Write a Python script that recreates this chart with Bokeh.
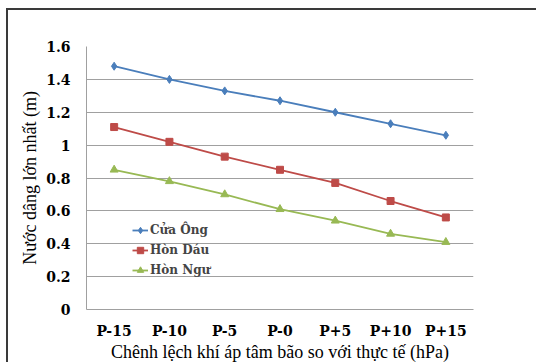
from bokeh.plotting import figure
from bokeh.models import FixedTicker, Legend, LegendItem
from bokeh.embed import file_html
from bokeh.resources import INLINE

categories = ["P-15", "P-10", "P-5", "P-0", "P+5", "P+10", "P+15"]
cua_ong = [1.48, 1.40, 1.33, 1.27, 1.20, 1.13, 1.06]
hon_dau = [1.11, 1.02, 0.93, 0.85, 0.77, 0.66, 0.56]
hon_ngu = [0.85, 0.78, 0.70, 0.61, 0.54, 0.46, 0.41]
series_names = ["Cửa Ông", "Hòn Dáu", "Hòn Ngư"]
y_ticks = [0, 0.2, 0.4, 0.6, 0.8, 1.0, 1.2, 1.4, 1.6]
y_tick_labels = ["0", "0.2", "0.4", "0.6", "0.8", "1", "1.2", "1.4", "1.6"]

FONT = "Liberation Serif"
BFONT = "DejaVu Serif"

p = figure(width=530, height=354, x_range=categories, y_range=(0, 1.6),
           output_backend="svg", toolbar_location=None,
           min_border_left=78, min_border_right=65, min_border_top=36,
           min_border_bottom=54,
           styles={"margin-left": "6px", "margin-top": "8px",
                   "border-left": "2px solid #3a3a3a",
                   "border-top": "2px solid #3a3a3a"})
p.outline_line_color = None
p.background_fill_color = "white"
p.border_fill_color = "white"

colors = ["#4a7ebb", "#be4b48", "#98b954"]
markers = ["diamond", "square", "triangle"]
sizes = [8, 7, 8]
items = []
for name, vals, c, m, s in zip(series_names, [cua_ong, hon_dau, hon_ngu], colors, markers, sizes):
    l = p.line(categories, vals, line_color=c, line_width=1.8)
    sc = p.scatter(categories, vals, marker=m, size=s, fill_color=c, line_color=c)
    items.append(LegendItem(label=name, renderers=[l, sc]))

legend = Legend(items=items, location=(46, 31), background_fill_alpha=0,
                border_line_color=None, label_text_font=BFONT,
                label_text_font_style="bold", label_text_font_size="12px",
                glyph_width=16, glyph_height=16, spacing=4, padding=2,
                label_standoff=2, margin=0, label_height=16)
p.add_layout(legend)

p.yaxis.ticker = FixedTicker(ticks=y_ticks)
p.yaxis.major_label_overrides = {t: s for t, s in zip(y_ticks, y_tick_labels)}
for ax in [p.xaxis, p.yaxis]:
    ax.axis_line_color = "#a0a0a0"
    ax.major_tick_line_color = None
    ax.minor_tick_line_color = None
    ax.major_tick_in = 0
    ax.major_tick_out = 0
    ax.minor_tick_in = 0
    ax.minor_tick_out = 0
    ax.major_label_text_font = BFONT
    ax.major_label_text_font_style = "bold"
    ax.major_label_text_font_size = "14px"
    ax.major_label_text_color = "black"
    ax.axis_label_text_font = FONT
    ax.axis_label_text_font_style = "normal"
    ax.axis_label_text_font_size = "18px"
    ax.axis_label_text_color = "black"
p.yaxis.major_label_standoff = 16
p.xaxis.major_label_standoff = 13
p.yaxis.axis_label = "Nước dâng lớn nhất (m)"
p.xaxis.axis_label = "Chênh lệch khí áp tâm bão so với thực tế (hPa)"
p.yaxis.axis_label_standoff = 3
p.xaxis.axis_label_standoff = 0

p.xgrid.grid_line_color = None
p.ygrid.grid_line_color = "#a0a0a0"
p.ygrid.ticker = FixedTicker(ticks=y_ticks)

open("out.html", "w").write(file_html(p, INLINE))
